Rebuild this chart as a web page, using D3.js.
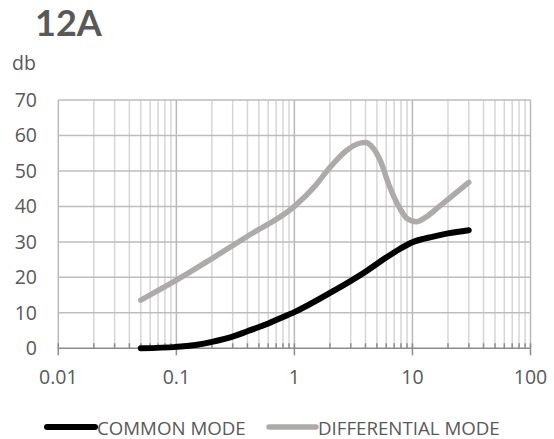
<!DOCTYPE html>
<html>
<head>
<meta charset="utf-8">
<script src="https://cdn.jsdelivr.net/npm/d3@7"></script>
<style>
  html, body { margin: 0; padding: 0; background: #fff; }
  svg { display: block; font-family: "Open Sans", "Noto Sans", sans-serif; }
</style>
</head>
<body>
<svg id="chart" width="554" height="439"></svg>
<script>
// ---- data ----
const title = "12A";
const yAxisLabel = "db";
const yTicks = [0, 10, 20, 30, 40, 50, 60, 70];
const xTicks = [0.01, 0.1, 1, 10, 100];
const xTickLabels = ["0.01", "0.1", "1", "10", "100"];
const seriesNames = ["COMMON MODE", "DIFFERENTIAL MODE"];

const commonFreq  = [0.05, 0.1, 0.15, 0.2, 0.3, 0.4, 0.57, 0.7, 1, 2, 4, 5.3, 7.8, 10, 15, 20, 30];
const commonDb    = [0, 0.4, 1, 1.8, 3.3, 4.8, 6.7, 8, 10.2, 15.6, 21.6, 24.4, 28, 29.9, 31.5, 32.4, 33.3];

const diffFreq = [0.05, 0.1, 0.2, 0.42, 1, 1.5, 2, 2.8, 3.4, 4, 4.6, 5.3, 6.4, 7.8, 9, 10.8, 13, 17, 20, 30];
const diffDb   = [13.6, 19.2, 25.3, 32.0, 40, 45.8, 51, 55.9, 57.6, 58, 56.6, 53.2, 45.6, 39.5, 36.6, 35.7, 37, 40.1, 42.0, 46.8];

// ---- layout ----
const svg = d3.select("#chart");
const plot = { left: 58.3, right: 530.5, top: 100, bottom: 348.3 };
const textColor = "#595959";

const x = d3.scaleLog().domain([0.01, 100]).range([plot.left, plot.right]);
const y = d3.scaleLinear().domain([0, 70]).range([plot.bottom, plot.top]);

// minor positions
const minorVals = [];
for (let d = 0.01; d < 100; d *= 10) {
  for (let k = 2; k <= 9; k++) minorVals.push(+(d * k).toPrecision(3));
}

// vertical gridlines
svg.append("g").selectAll("line").data(minorVals).join("line")
  .attr("x1", d => x(d)).attr("x2", d => x(d))
  .attr("y1", plot.top).attr("y2", plot.bottom)
  .attr("stroke", "#d6d6d6").attr("stroke-width", 1.5);
svg.append("g").selectAll("line").data(xTicks).join("line")
  .attr("x1", d => x(d)).attr("x2", d => x(d))
  .attr("y1", plot.top).attr("y2", plot.bottom)
  .attr("stroke", "#b8b8b8").attr("stroke-width", 1.5);

// horizontal gridlines
svg.append("g").selectAll("line").data(yTicks.filter(d => d > 0)).join("line")
  .attr("x1", plot.left).attr("x2", plot.right)
  .attr("y1", d => y(d)).attr("y2", d => y(d))
  .attr("stroke", "#bdbdbd").attr("stroke-width", 1.5);

// x axis line + ticks
svg.append("line")
  .attr("x1", plot.left).attr("x2", plot.right)
  .attr("y1", y(0)).attr("y2", y(0))
  .attr("stroke", "#8c8c8c").attr("stroke-width", 1.5);
svg.append("g").selectAll("line").data(minorVals).join("line")
  .attr("x1", d => x(d)).attr("x2", d => x(d))
  .attr("y1", y(0) - 5).attr("y2", y(0))
  .attr("stroke", "#8c8c8c").attr("stroke-width", 1.5);
svg.append("g").selectAll("line").data(xTicks).join("line")
  .attr("x1", d => x(d)).attr("x2", d => x(d))
  .attr("y1", y(0) - 5).attr("y2", y(0) + 7)
  .attr("stroke", "#8c8c8c").attr("stroke-width", 1.5);

// y tick labels
svg.append("g").selectAll("text").data(yTicks).join("text")
  .attr("x", 37).attr("y", d => y(d) + 7)
  .attr("text-anchor", "end")
  .attr("font-size", 19.5).attr("fill", textColor)
  .text(d => d);

// x tick labels
svg.append("g").selectAll("text").data(xTicks).join("text")
  .attr("x", d => x(d)).attr("y", 384)
  .attr("text-anchor", "middle")
  .attr("font-size", 19.5).attr("fill", textColor)
  .text((d, i) => xTickLabels[i]);

// title & axis label
svg.append("text").attr("x", 35).attr("y", 36)
  .style("font-family", "Lato, 'Open Sans', sans-serif")
  .attr("font-size", 36).attr("font-weight", "bold").attr("fill", textColor)
  .text(title);
svg.append("text").attr("x", 12).attr("y", 70)
  .attr("font-size", 19.5).attr("fill", textColor)
  .text(yAxisLabel);

// series
const line = d3.line().x(d => x(d[0])).y(d => y(d[1])).curve(d3.curveMonotoneX);
const common = commonFreq.map((f, i) => [f, commonDb[i]]);
const diff = diffFreq.map((f, i) => [f, diffDb[i]]);

svg.append("path").datum(diff)
  .attr("d", line).attr("fill", "none")
  .attr("stroke", "#aeaaaa").attr("stroke-width", 5.5)
  .attr("stroke-linecap", "round").attr("stroke-linejoin", "round");
svg.append("path").datum(common)
  .attr("d", line).attr("fill", "none")
  .attr("stroke", "#000").attr("stroke-width", 6)
  .attr("stroke-linecap", "round").attr("stroke-linejoin", "round");

// legend
const legend = [
  { name: seriesNames[0], color: "#000", x1: 47, x2: 95, tx: 97, w: 6 },
  { name: seriesNames[1], color: "#aeaaaa", x1: 269, x2: 316, tx: 318, w: 5.5 }
];
const lg = svg.append("g");
legend.forEach(l => {
  lg.append("line").attr("x1", l.x1).attr("x2", l.x2).attr("y1", 427).attr("y2", 427)
    .attr("stroke", l.color).attr("stroke-width", l.w).attr("stroke-linecap", "round");
  lg.append("text").attr("x", l.tx).attr("y", 434.5)
    .attr("font-size", 18.7).attr("fill", textColor).text(l.name);
});
</script>
</body>
</html>
